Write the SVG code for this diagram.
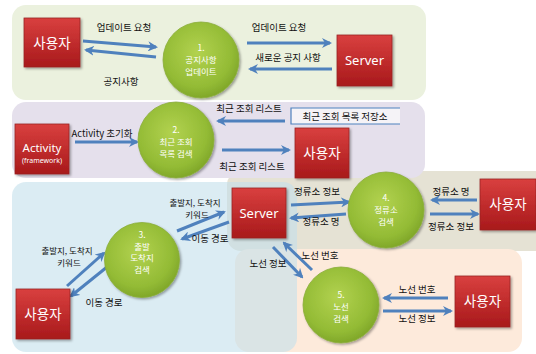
<svg xmlns="http://www.w3.org/2000/svg" width="536" height="354" viewBox="0 0 536 354">
<defs>
<linearGradient id="red" x1="0" y1="0" x2="0" y2="1">
<stop offset="0" stop-color="#d9403f"/>
<stop offset="1" stop-color="#a8191b"/>
</linearGradient>
<radialGradient id="lime" cx="0.45" cy="0.4" r="0.65">
<stop offset="0" stop-color="#b2d24f"/>
<stop offset="0.7" stop-color="#93bb35"/>
<stop offset="1" stop-color="#7aa126"/>
</radialGradient>
<filter id="sh" x="-20%" y="-20%" width="150%" height="150%">
<feDropShadow dx="1.5" dy="1.5" stdDeviation="1.2" flood-color="#000" flood-opacity="0.35"/>
</filter>
<marker id="ah" viewBox="0 0 10 10" refX="8" refY="5" markerWidth="10" markerHeight="10" markerUnits="userSpaceOnUse" orient="auto">
<path d="M0,0 L10,5 L0,10 L3,5 z" fill="#4f81bd"/>
</marker>
</defs>
<style>
.box{fill:url(#red);stroke:#9a2325;stroke-width:0.8;filter:url(#sh)}
.cir{fill:url(#lime);stroke:#8aad3a;stroke-width:0.8;filter:url(#sh)}
.bt{font-family:"Noto Sans","Noto Sans CJK KR",sans-serif;fill:#fff;text-anchor:middle}
.ct{font-family:"Noto Sans CJK KR","Noto Sans",sans-serif;fill:#fff;font-size:8.5px;text-anchor:middle}
.lb{font-family:"Noto Sans CJK KR","Noto Sans",sans-serif;fill:#111;font-size:9.5px;text-anchor:middle}
.lb2{font-family:"Noto Sans CJK KR","Noto Sans",sans-serif;fill:#111;font-size:8.5px;text-anchor:middle}
.ar{stroke:#4f81bd;stroke-width:3;fill:none;marker-end:url(#ah)}
</style>
<g id="panels">
<rect x="12" y="5" width="414" height="95" rx="14" fill="#ebf1de"/>
<rect x="227" y="171" width="330" height="80" rx="14" fill="#e5e2d4"/>
<rect x="235" y="249" width="287" height="103" rx="14" fill="#fdeadb"/>
<rect x="12" y="102" width="413" height="76" rx="14" fill="#e5e0ec"/>
<rect x="12" y="182" width="285" height="170" rx="14" fill="#c3dfeb" opacity="0.6"/>
</g>
<g id="connectors">
<line class="ar" x1="83" y1="41" x2="156" y2="47"/>
<line class="ar" x1="156" y1="57" x2="86" y2="50"/>
<line class="ar" x1="247" y1="43" x2="330" y2="43"/>
<line class="ar" x1="332" y1="69" x2="250" y2="69"/>
<line class="ar" x1="285" y1="121" x2="218" y2="121"/>
<line class="ar" x1="222" y1="150" x2="289" y2="150"/>
<line class="ar" x1="75" y1="142" x2="137" y2="142"/>
<line class="ar" x1="177" y1="231" x2="224" y2="212"/>
<line class="ar" x1="229" y1="222" x2="182" y2="239"/>
<line class="ar" x1="67" y1="286" x2="104" y2="253"/>
<line class="ar" x1="107" y1="267" x2="71" y2="296"/>
<line class="ar" x1="291" y1="205" x2="349" y2="202"/>
<line class="ar" x1="346" y1="214" x2="291" y2="218"/>
<line class="ar" x1="477" y1="200" x2="432" y2="200"/>
<line class="ar" x1="430" y1="214" x2="478" y2="214"/>
<line class="ar" x1="273" y1="247" x2="302" y2="277"/>
<line class="ar" x1="312" y1="270" x2="284" y2="243"/>
<line class="ar" x1="448" y1="298" x2="384" y2="298"/>
<line class="ar" x1="383" y1="311" x2="451" y2="311"/>
</g>
<g id="labels">
<text class="lb" x="124" y="31">업데이트 요청</text>
<text class="lb" x="121" y="85">공지사항</text>
<text class="lb" x="279" y="31">업데이트 요청</text>
<text class="lb" x="288" y="61">새로운 공지 사항</text>
<text class="lb" x="249" y="112">최근 조회 리스트</text>
<text class="lb" x="252" y="170">최근 조회 리스트</text>
<text class="lb" x="102" y="137">Activity 초기화</text>
<text class="lb2" x="195" y="206">출발지, 도착지</text>
<text class="lb2" x="197" y="218">키워드</text>
<text class="lb" x="210" y="242">이동 경로</text>
<text class="lb2" x="67" y="254">출발지, 도착지</text>
<text class="lb2" x="69" y="266">키워드</text>
<text class="lb" x="104" y="306">이동 경로</text>
<text class="lb" x="317" y="195">정류소 정보</text>
<text class="lb" x="321" y="225">정류소 명</text>
<text class="lb" x="451" y="195">정류소 명</text>
<text class="lb" x="451" y="230">정류소 정보</text>
<text class="lb" x="268" y="267">노선 정보</text>
<text class="lb" x="320" y="259">노선 번호</text>
<text class="lb" x="417" y="293">노선 번호</text>
<text class="lb" x="417" y="322">노선 정보</text>
</g>
<g id="store">
<rect x="291" y="108" width="109" height="16" fill="#ffffff" opacity="0.6"/>
<path d="M400,108 H291 V124 H400" fill="none" stroke="#4f81bd" stroke-width="1.2"/>
<text class="lb" x="345" y="119.5">최근 조회 목록 저장소</text>
</g>
<g id="user1"><rect class="box" x="24" y="18" width="56" height="49"/><text class="bt" x="52" y="47.5" font-size="13.5">사용자</text></g>
<g id="server1"><rect class="box" x="337" y="35" width="55" height="51"/><text class="bt" x="364.5" y="65" font-size="13">Server</text></g>
<g id="activity"><rect class="box" x="15" y="124" width="54" height="50"/><text class="bt" x="42" y="152" font-size="11.5">Activity</text><text class="bt" x="42" y="163" font-size="7">(framework)</text></g>
<g id="user2"><rect class="box" x="295" y="128" width="54" height="50"/><text class="bt" x="322" y="158" font-size="13.5">사용자</text></g>
<g id="server2"><rect class="box" x="232" y="188" width="54" height="50"/><text class="bt" x="259" y="217.5" font-size="13">Server</text></g>
<g id="user3"><rect class="box" x="480" y="179" width="56" height="51"/><text class="bt" x="508" y="209" font-size="13.5">사용자</text></g>
<g id="user4"><rect class="box" x="16" y="289" width="54" height="50"/><text class="bt" x="43" y="319" font-size="13.5">사용자</text></g>
<g id="user5"><rect class="box" x="455" y="276" width="55" height="51"/><text class="bt" x="482.5" y="306" font-size="13.5">사용자</text></g>
<g id="proc1"><circle class="cir" cx="201" cy="60" r="38"/><text class="ct" x="201" y="51">1.</text><text class="ct" x="201" y="63">공지사항</text><text class="ct" x="201" y="75">업데이트</text></g>
<g id="proc2"><circle class="cir" cx="176" cy="140" r="38"/><text class="ct" x="176" y="133">2.</text><text class="ct" x="176" y="145">최근 조회</text><text class="ct" x="176" y="157">목록 검색</text></g>
<g id="proc3"><circle class="cir" cx="142" cy="260" r="37.5"/><text class="ct" x="142" y="238">3.</text><text class="ct" x="142" y="249.5">출발</text><text class="ct" x="142" y="261">도착지</text><text class="ct" x="142" y="272.5">검색</text></g>
<g id="proc4"><circle class="cir" cx="386" cy="210" r="38"/><text class="ct" x="386" y="201">4.</text><text class="ct" x="386" y="213">정류소</text><text class="ct" x="386" y="225">검색</text></g>
<g id="proc5"><circle class="cir" cx="341" cy="305" r="38"/><text class="ct" x="341" y="298">5.</text><text class="ct" x="341" y="310">노선</text><text class="ct" x="341" y="322">검색</text></g>
</svg>
